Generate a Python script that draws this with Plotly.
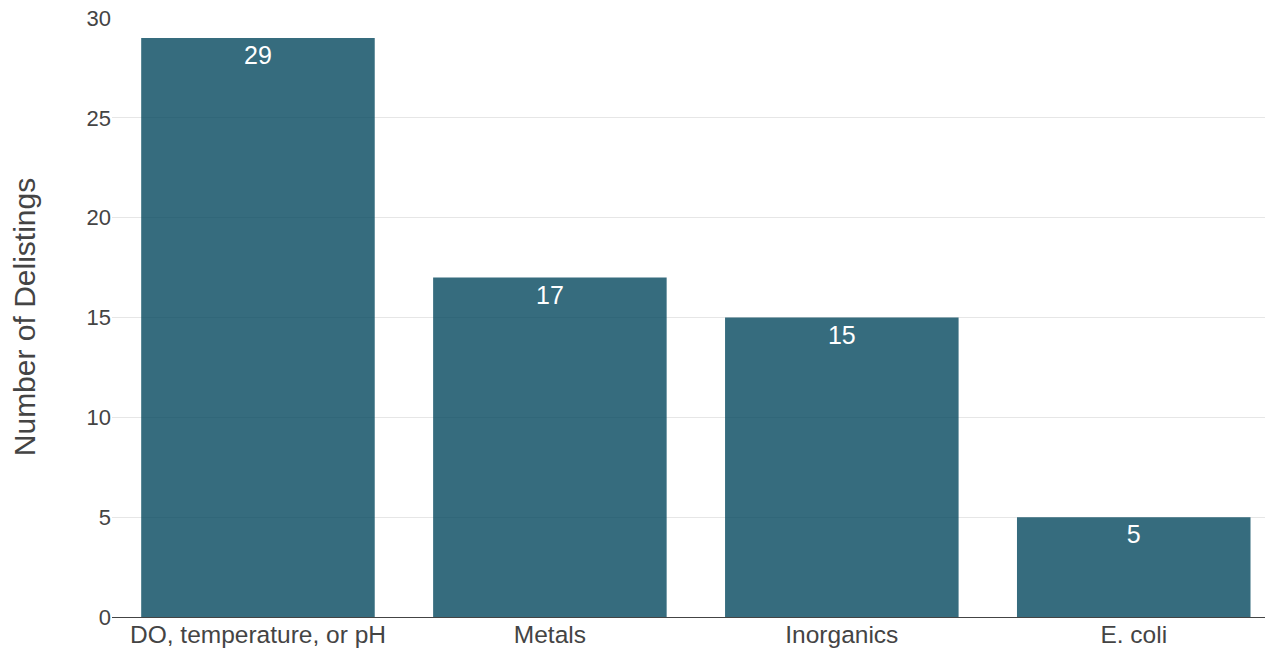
import plotly.graph_objects as go

categories = ["DO, temperature, or pH", "Metals", "Inorganics", "E. coli"]
delistings = [29, 17, 15, 5]
y_ticks = [0, 5, 10, 15, 20, 25, 30]

fig = go.Figure(
    go.Bar(
        x=categories,
        y=delistings,
        text=[str(v) for v in delistings],
        textposition="inside",
        insidetextanchor="end",
        textfont=dict(color="white", size=25, family="Liberation Sans, Arial, sans-serif"),
        marker=dict(color="rgb(4,71,94)", opacity=0.8, line=dict(width=0)),
        hoverinfo="x+y",
    )
)

fig.update_layout(
    width=1265,
    height=641,
    autosize=False,
    margin=dict(l=104, r=0, t=9, b=32),
    paper_bgcolor="white",
    plot_bgcolor="white",
    bargap=0.2,
    showlegend=False,
    font=dict(family="Liberation Sans, Arial, sans-serif", color="#444444", size=22),
    xaxis=dict(
        range=[-0.5, 3.477],
        showline=True,
        linecolor="#444444",
        linewidth=1,
        showgrid=False,
        automargin=False,
        ticklabelstandoff=-4,
        tickfont=dict(size=24.5, color="#444444"),
        fixedrange=True,
    ),
    yaxis=dict(
        range=[0, 30.05],
        tickvals=y_ticks,
        showgrid=True,
        gridcolor="#e6e6e6",
        gridwidth=1,
        zeroline=False,
        showline=False,
        automargin=False,
        ticklabeloverflow="allow",
        tickfont=dict(size=22, color="#444444"),
        title=dict(text="Number of Delistings", font=dict(size=30, color="#444444"), standoff=54),
        fixedrange=True,
    ),
)

fig.write_html("out.html")
